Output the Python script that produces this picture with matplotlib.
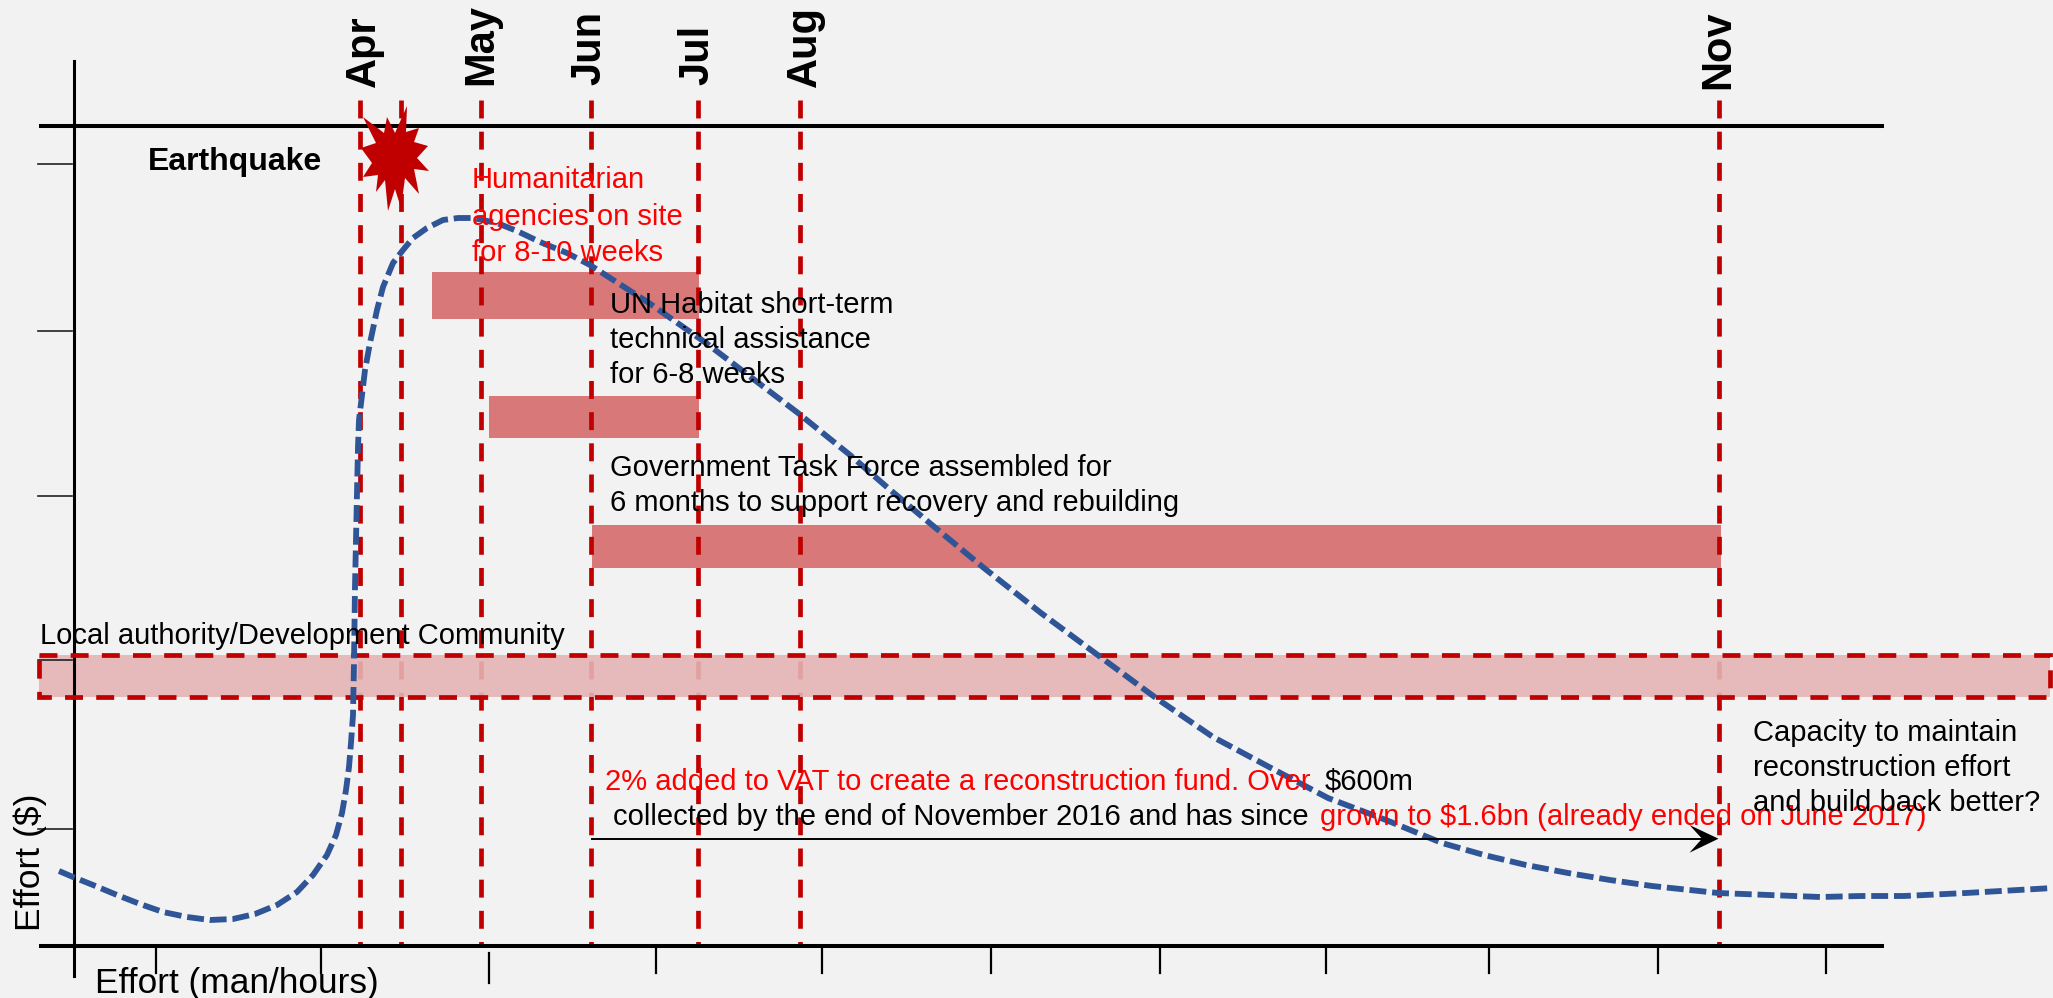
import matplotlib
matplotlib.use("Agg")
import matplotlib.pyplot as plt
from matplotlib.patches import Polygon, Rectangle

plt.rcParams['font.family'] = ['Liberation Sans', 'DejaVu Sans']

W, H = 2053, 998
BG = '#f2f2f2'
RED = '#c00000'
BLUE = '#2f5597'
DASH = (3.8, 2.8)

months = ['Apr', 'May', 'Jun', 'Jul', 'Aug', 'Nov']
month_x = [360, 481, 591, 698, 800, 1719]
month_label_x = [364, 481, 589, 697, 805, 1718]
month_label_y = [87, 85, 85, 85, 87, 89]
extra_line_x = [401]

y_ticks = [164, 331, 496, 660, 829]
x_ticks = [156, 321, 656, 822, 991, 1160, 1326, 1489, 1658, 1826]
x_tick_low = [489]

curve_x = [59, 73, 93, 117, 140, 163, 187, 210, 233, 255, 277, 297, 313, 327, 336, 342, 346, 349, 351, 353,
           354, 355, 356, 357, 358, 359, 362, 365, 370, 377, 383, 393, 403, 413, 427, 443, 458, 473, 497, 517,
           540, 567, 590, 649, 706, 798, 850, 888, 926, 984, 1041, 1095, 1156, 1213, 1271, 1328, 1386, 1442,
           1484, 1526, 1568, 1610, 1652, 1718, 1769, 1820, 1861, 1904, 1966, 2053]
curve_y = [871, 877, 885, 895, 904, 912, 917, 920, 919, 914, 905, 892, 875, 855, 835, 813, 790, 767, 743, 715,
           663, 587, 540, 493, 447, 420, 395, 370, 343, 310, 287, 263, 250, 238, 228, 220, 218, 218, 223, 231,
           242, 253, 265, 303, 343, 413, 455, 488, 520, 568, 613, 653, 698, 737, 768, 798, 820, 843,
           855, 865, 873, 880, 886, 893, 895, 897, 896, 896, 893, 888]

bars = [(432, 699, 272, 319), (489, 699, 396, 438), (592, 1721, 525, 568)]
band = (39, 2050, 655, 697)

star_x = [363, 384, 387, 395, 407, 406, 419, 414, 428, 417, 429, 414, 419, 405, 401, 395, 388, 385, 376, 378, 363, 372, 361, 376]
star_y = [117, 133, 117, 133, 106, 132, 128, 142, 146, 158, 171, 169, 194, 178, 208, 189, 211, 180, 192, 175, 177, 163, 148, 143]

arrow_x = [1718.5, 1689.5, 1702, 1689.5]
arrow_y = [838.7, 825, 838.7, 852.7]


def draw_frame(ax):
    ax.plot([39, 1884], [126, 126], color='black', lw=2.9, solid_capstyle='butt', zorder=2)
    ax.plot([39, 1884], [946, 946], color='black', lw=2.9, solid_capstyle='butt', zorder=2)
    ax.plot([73.5, 73.5], [61, 976], color='black', lw=2.2, zorder=2.5)
    for y in y_ticks:
        ax.plot([38, 72], [y, y], color='#222222', lw=1.2, zorder=2.5)
    for x in x_ticks:
        ax.plot([x, x], [946, 973], color='black', lw=1.6)
    for x in x_tick_low:
        ax.plot([x, x], [953, 983], color='black', lw=1.6)


def draw_events(ax):
    for x in month_x + extra_line_x:
        ax.plot([x, x], [100, 946], color=RED, lw=3.4, dashes=DASH, zorder=1)
    for x, y, label in zip(month_label_x, month_label_y, months):
        ax.text(x, y, label, rotation=90, ha='center', va='bottom', fontsize=30, fontweight='bold')
    ax.add_patch(Polygon(list(zip(star_x, star_y)), closed=True, color=RED, lw=0, zorder=3))
    ax.text(148, 162, 'Earthquake', fontsize=23, fontweight='bold', va='center')


def draw_bars(ax):
    for x0, x1, y0, y1 in bars:
        ax.add_patch(Rectangle((x0, y0), x1 - x0, y1 - y0, color='#c00000', alpha=0.5, lw=0, zorder=3))
    x0, x1, y0, y1 = band
    ax.add_patch(Rectangle((x0, y0), x1 - x0, y1 - y0, facecolor='#e5b4b4', edgecolor='none', alpha=0.9, zorder=1.5))
    ax.add_patch(Rectangle((x0, y0), x1 - x0, y1 - y0, fill=False, edgecolor=RED, lw=3.4, ls=(0, DASH), zorder=3))


def draw_text(ax):
    fs = 21
    ax.text(472, 180, 'Humanitarian', color='red', fontsize=fs, va='center', zorder=5)
    ax.text(472, 216.5, 'agencies on site', color='red', fontsize=fs, va='center', zorder=5)
    ax.text(472, 252.5, 'for 8-10 weeks', color='red', fontsize=fs, va='center', zorder=5)
    ax.text(610, 305, 'UN Habitat short-term', fontsize=fs, va='center', zorder=5)
    ax.text(610, 340, 'technical assistance', fontsize=fs, va='center', zorder=5)
    ax.text(610, 375, 'for 6-8 weeks', fontsize=fs, va='center', zorder=5)
    ax.text(610, 468, 'Government Task Force assembled for', fontsize=fs, va='center', zorder=5)
    ax.text(610, 503, '6 months to support recovery and rebuilding', fontsize=fs, va='center', zorder=5)
    ax.text(40, 636, 'Local authority/Development Community', fontsize=fs, va='center', zorder=5)
    ax.text(605, 782, '2% added to VAT to create a reconstruction fund. Over ', color='red', fontsize=fs, va='center', zorder=5)
    ax.text(1325, 782, '$600m', fontsize=fs, va='center', zorder=5)
    ax.text(613, 817, 'collected by the end of November 2016 and has since ', fontsize=fs, va='center', zorder=5)
    ax.text(1320, 817, 'grown to $1.6bn (already ended on June 2017)', color='red', fontsize=fs, va='center', zorder=5)
    ax.text(1753, 733, 'Capacity to maintain', fontsize=fs, va='center', zorder=5)
    ax.text(1753, 768, 'reconstruction effort', fontsize=fs, va='center', zorder=5)
    ax.text(1753, 803, 'and build back better?', fontsize=fs, va='center', zorder=5)
    ax.text(30, 862, 'Effort ($)', fontsize=25.5, rotation=90, ha='center', va='center', zorder=5)
    ax.text(95, 983, 'Effort (man/hours)', fontsize=25.4, va='center', zorder=5)
    ax.plot([592, 1702], [838.7, 838.7], color='black', lw=1.4, zorder=4)
    ax.add_patch(Polygon(list(zip(arrow_x, arrow_y)), closed=True, color='black', lw=0, zorder=4))


def main():
    fig = plt.figure(figsize=(W / 100, H / 100), dpi=100, facecolor=BG)
    ax = fig.add_axes([0, 0, 1, 1])
    ax.set_xlim(0, W)
    ax.set_ylim(H, 0)
    ax.axis('off')
    draw_frame(ax)
    draw_events(ax)
    draw_bars(ax)
    ax.plot(curve_x, curve_y, color=BLUE, lw=4.2, dashes=(2.9, 1.0), zorder=4)
    draw_text(ax)
    fig.savefig('out.png', dpi=100, facecolor=BG)


if __name__ == "__main__":
    main()
